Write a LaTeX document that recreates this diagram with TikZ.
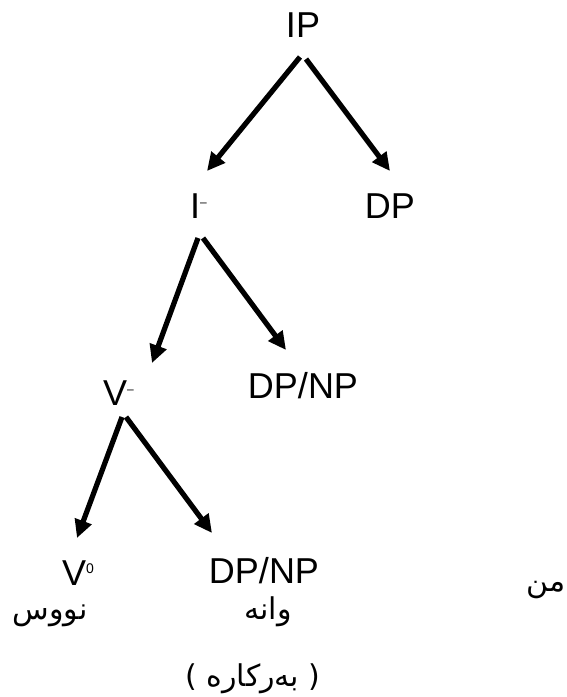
\documentclass[tikz,border=0pt]{standalone}
\usepackage{fontspec}
\setmainfont{Liberation Sans}
\newfontfamily\arabicfont[Script=Arabic]{DejaVu Sans}
\TeXXeTstate=1
\usetikzlibrary{arrows.meta}
\newcommand{\supminus}{\raisebox{12pt}{\fontsize{12}{12}\selectfont –}}
\newcommand{\supzero}{\raisebox{12pt}{\fontsize{14}{14}\selectfont 0}}
\begin{document}
\begin{tikzpicture}[x=1pt,y=-1pt,
  lbl/.style={inner sep=0pt, font=\fontsize{36}{36}\selectfont},
  ar/.style={inner sep=0pt, font=\fontsize{30}{30}\selectfont\arabicfont},
  branch/.style={line width=5.2pt, -{Triangle[length=18pt,width=17pt]}}]
\useasboundingbox (0,0) rectangle (567,697);
% labels
\node[lbl, anchor=base] (IP) at (303,37) {IP};
\node[lbl, anchor=base west] (Ibar) at (190,218) {I\supminus};
\node[lbl, anchor=base] (DP) at (390,218) {DP};
\node[lbl, anchor=base west] (Vbar) at (103,405) {V\supminus};
\node[lbl, anchor=base] (DPNPa) at (303,398) {DP/NP};
\node[lbl, anchor=base west] (Vzero) at (62,585) {V\supzero};
\node[lbl, anchor=base] (DPNPb) at (264,583) {DP/NP};
\node[ar, anchor=base east] (min) at (566,591) {\beginR من\endR};
\node[ar, anchor=base] (nuus) at (50,619) {\beginR نووس\endR};
\node[ar, anchor=base] (wana) at (268,619) {\beginR وانه\endR};
\node[ar, anchor=base] (barkar) at (253,686) {\beginR ( به‌رکاره )\endR};
% branch points
\coordinate (a1l) at (300,57); \coordinate (a1r) at (306,59);
\coordinate (t1l) at (207,171); \coordinate (t1r) at (390,171);
\coordinate (a2l) at (198,238); \coordinate (a2r) at (203,238);
\coordinate (t2l) at (152,363); \coordinate (t2r) at (286,350);
\coordinate (a3l) at (122,417); \coordinate (a3r) at (126,417);
\coordinate (t3l) at (77,538); \coordinate (t3r) at (212,533);
\draw[branch] (a1l) -- (t1l);
\draw[branch] (a1r) -- (t1r);
\draw[branch] (a2l) -- (t2l);
\draw[branch] (a2r) -- (t2r);
\draw[branch] (a3l) -- (t3l);
\draw[branch] (a3r) -- (t3r);
\end{tikzpicture}
\end{document}
